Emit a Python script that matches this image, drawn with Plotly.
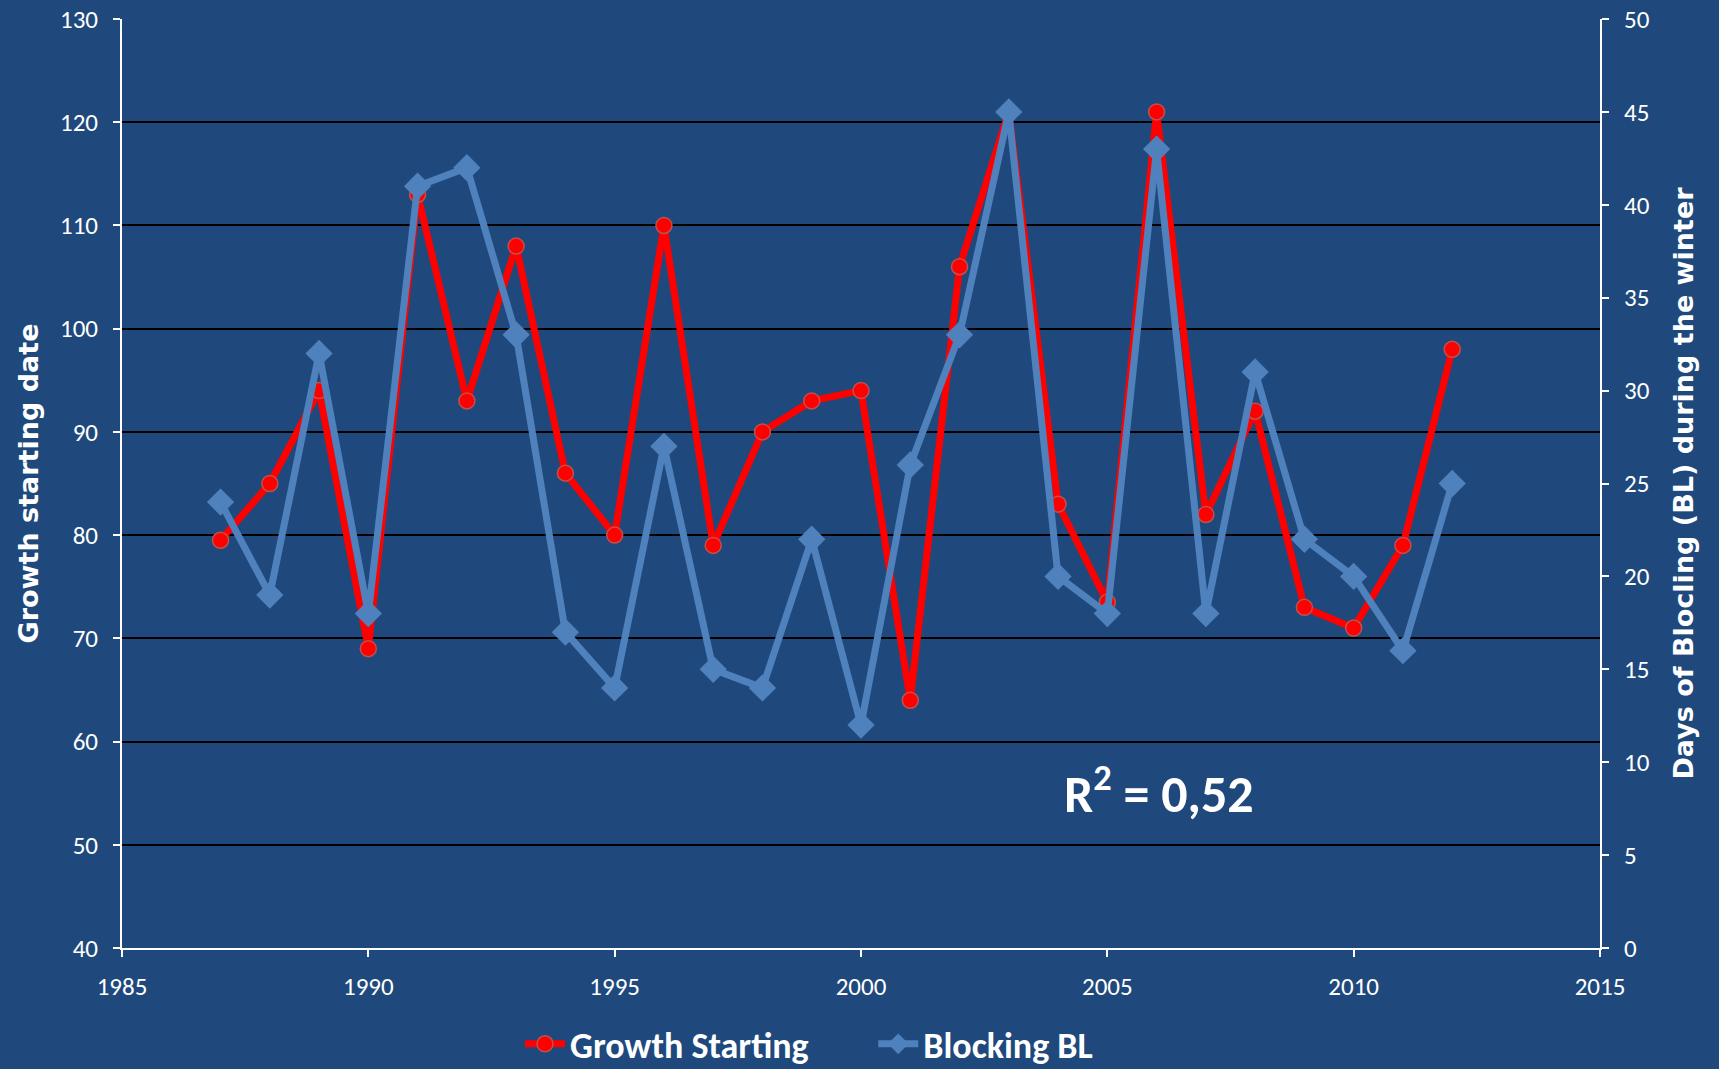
import plotly.graph_objects as go

years = list(range(1987, 2013))
growth_starting = [79.5, 85, 94, 69, 113, 93, 108, 86, 80, 110, 79, 90, 93, 94,
                   64, 106, 121, 83, 73.5, 121, 82, 92, 73, 71, 79, 98]
blocking_bl = [24, 19, 32, 18, 41, 42, 33, 17, 14, 27, 15, 14, 22, 12,
               26, 33, 45, 20, 18, 43, 18, 31, 22, 20, 16, 25]

x_ticks = [1985, 1990, 1995, 2000, 2005, 2010, 2015]
left_ticks = list(range(40, 131, 10))
right_ticks = list(range(0, 51, 5))

BG = "#1F497C"
NARROW = "Calibri, Carlito, 'Liberation Sans Narrow', Lato, sans-serif"
WIDE = "'DejaVu Sans'"

fig = go.Figure()
fig.add_trace(go.Scatter(
    x=years, y=growth_starting, name="Growth Starting", mode="lines+markers",
    line=dict(color="#FF0000", width=7),
    marker=dict(symbol="circle", size=16, color="#FF0000",
                line=dict(color="#C0504D", width=1.5)),
    yaxis="y", legend="legend"))
fig.add_trace(go.Scatter(
    x=years, y=blocking_bl, name="Blocking BL", mode="lines+markers",
    line=dict(color="#4F81BD", width=7),
    marker=dict(symbol="diamond", size=21, color="#4F81BD"),
    yaxis="y2", legend="legend2"))

tick_common = dict(showline=True, linecolor="white", linewidth=2, zeroline=False,
                   ticks="outside", tickcolor="white", ticklen=7, tickwidth=1.5,
                   tickfont=dict(family=NARROW, size=25, color="white"),
                   automargin=False)

legend_common = dict(orientation="h", xref="container", yref="container",
                     xanchor="left", y=0.0235, yanchor="middle",
                     font=dict(family=NARROW, size=36, color="white", weight="bold"),
                     bgcolor="rgba(0,0,0,0)", itemwidth=40)

fig.update_layout(
    width=1719, height=1069,
    paper_bgcolor=BG, plot_bgcolor=BG,
    margin=dict(l=122, r=119, t=19, b=121),
    font=dict(family=NARROW, color="white", size=25),
    showlegend=True,
    legend=dict(x=0.3025, **legend_common),
    legend2=dict(x=0.508, **legend_common),
    xaxis=dict(range=[1985, 2015], tickvals=x_ticks, ticktext=[str(v) for v in x_ticks],
               showgrid=False, ticklabelstandoff=8, **tick_common),
    yaxis=dict(range=[40, 130], tickvals=left_ticks, ticktext=[str(v) for v in left_ticks],
               showgrid=True, gridcolor="black", gridwidth=2, ticklabelstandoff=10,
               title=dict(text="Growth starting date", standoff=14,
                          font=dict(family=WIDE, size=27, color="white", weight="bold")),
               **tick_common),
    yaxis2=dict(range=[0, 50], tickvals=right_ticks, ticktext=[str(v) for v in right_ticks],
                overlaying="y", side="right", showgrid=False, ticklabelstandoff=10,
                title=dict(text="Days of Blocling (BL) during the winter", standoff=25,
                           font=dict(family=WIDE, size=27, color="white", weight="bold")),
                **tick_common),
    annotations=[dict(x=2006.05, y=55.3, xref="x", yref="y", showarrow=False,
                      text="R<sup>2</sup> = 0,52",
                      font=dict(family=NARROW, size=52, color="white", weight="bold"))],
)

fig.write_html("out.html", config={"displayModeBar": False},
               post_script="document.body.style.margin='0';")
